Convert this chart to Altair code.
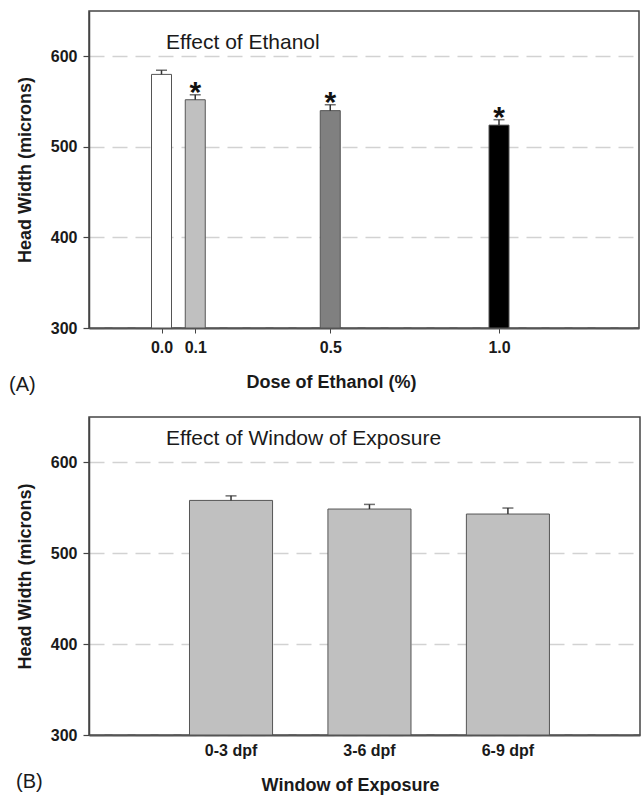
import altair as alt
import pandas as pd

# ---------------- data ----------------
# Panel A: effect of ethanol dose
DOSE = [0.0, 0.1, 0.5, 1.0]
DOSE_LABEL = ["0.0", "0.1", "0.5", "1.0"]
A_MEAN = [580, 552, 540, 524]
A_ERR = [4.6, 5.5, 6.5, 6.0]
A_SIG = [False, True, True, True]

# Panel B: effect of window of exposure
WINDOW = ["0-3 dpf", "3-6 dpf", "6-9 dpf"]
B_MEAN = [558.2, 548.7, 543.2]
B_ERR = [5.0, 5.1, 6.6]

Y_TICKS = [300, 400, 500, 600]
TITLE_A = "Effect of Ethanol"
TITLE_B = "Effect of Window of Exposure"
PANEL_A = "(A)"
PANEL_B = "(B)"

# ---------------- style ----------------
FONT = "Liberation Sans"
A_COLORS = ["#ffffff", "#c0c0c0", "#808080", "#000000"]
B_COLOR = "#c0c0c0"
TXT = "#1a1a1a"

dfA = pd.DataFrame({
    "dose": DOSE,
    "key": DOSE_LABEL,
    "mean": A_MEAN,
    "upper": [m + e for m, e in zip(A_MEAN, A_ERR)],
    "sig": A_SIG,
})
dfB = pd.DataFrame({
    "win": WINDOW,
    "mean": B_MEAN,
    "upper": [m + e for m, e in zip(B_MEAN, B_ERR)],
})

Y_TITLE = "Head Width (microns)"


def y_axis(h):
    return alt.Axis(
        values=Y_TICKS, grid=True, gridDash=[15, 8], gridColor="#d2d2d2",
        gridWidth=1.5, tickSize=6, tickColor="#444", tickWidth=1.2,
        domainColor="#444", domainWidth=1.5, labelPadding=6,
        labelFontSize=16, labelFontWeight="bold", labelColor=TXT,
        titleFontSize=18, titleFontWeight="bold", titleColor=TXT,
        titleX=-64, titleY=h / 2, titleAngle=270, titleAlign="center",
        titleBaseline="middle",
    )


def y_enc(field, h):
    return alt.Y(field, type="quantitative",
                 scale=alt.Scale(domain=[300, 650], nice=False, zero=False),
                 axis=y_axis(h), title=Y_TITLE)


# ---------------- panel A ----------------
WA, HA = 550, 317
xA_axis = alt.Axis(
    values=DOSE, format=".1f", grid=False, tickSize=5, tickColor="#444",
    labelPadding=6, labelFontSize=16, labelFontWeight="bold", labelColor=TXT,
    labelFlush=False, domainColor="#555", domainWidth=2,
    titleFontSize=18, titleFontWeight="bold", titleColor=TXT,
    titleX=242, titleY=59, titleBaseline="alphabetic", titleAlign="center",
)


def xA(field="dose"):
    return alt.X(field, type="quantitative",
                 scale=alt.Scale(domain=[-0.2, 1.4], nice=False, zero=False),
                 axis=xA_axis, title="Dose of Ethanol (%)")


baseA = alt.Chart(dfA)
barsA = baseA.mark_bar(size=20, stroke="#555", strokeWidth=1).encode(
    x=xA(), y=y_enc("mean", HA), y2=alt.datum(300),
    color=alt.Color("key:N", scale=alt.Scale(domain=DOSE_LABEL, range=A_COLORS), legend=None),
)
errA = baseA.mark_rule(color="#333", strokeWidth=1.5).encode(
    x=xA(), y=y_enc("mean", HA), y2="upper:Q")
capA = baseA.mark_tick(orient="horizontal", size=11, thickness=1.5, color="#333").encode(
    x=xA(), y=y_enc("upper", HA))
starA = baseA.transform_filter("datum.sig").mark_text(
    text="*", fontSize=30, fontWeight="bold", font=FONT, baseline="alphabetic",
    dy=7, color="#111").encode(x=xA(), y=y_enc("upper", HA))
titleA = alt.Chart(pd.DataFrame({"t": [TITLE_A]})).mark_text(
    align="left", baseline="alphabetic", fontSize=21, font=FONT, color=TXT).encode(
    x=alt.value(77), y=alt.value(38), text="t:N")
tagA = alt.Chart(pd.DataFrame({"t": [PANEL_A]})).mark_text(
    align="left", baseline="alphabetic", fontSize=20, font=FONT, color=TXT).encode(
    x=alt.value(-80), y=alt.value(380), text="t:N")

chartA = alt.layer(barsA, errA, capA, starA, titleA, tagA).properties(width=WA, height=HA)

# ---------------- panel B ----------------
WB, HB = 551, 318
xB_axis = alt.Axis(
    grid=False, ticks=False, tickSize=0, labelPadding=7, labelFontSize=16,
    labelFontWeight="bold", labelColor=TXT, labelAngle=0,
    domainColor="#555", domainWidth=2,
    titleFontSize=18, titleFontWeight="bold", titleColor=TXT,
    titleX=261, titleY=55, titleBaseline="alphabetic", titleAlign="center",
)


def xB():
    return alt.X("win", type="nominal",
                 scale=alt.Scale(domain=WINDOW, paddingInner=0.4, paddingOuter=0.69, align=0.526),
                 axis=xB_axis, title="Window of Exposure")


baseB = alt.Chart(dfB)
barsB = baseB.mark_bar(color=B_COLOR, stroke="#555", strokeWidth=1).encode(
    x=xB(), y=y_enc("mean", HB), y2=alt.datum(300))
errB = baseB.mark_rule(color="#333", strokeWidth=1.5).encode(
    x=xB(), y=y_enc("mean", HB), y2="upper:Q")
capB = baseB.mark_tick(orient="horizontal", size=11, thickness=1.5, color="#333").encode(
    x=xB(), y=y_enc("upper", HB))
titleB = alt.Chart(pd.DataFrame({"t": [TITLE_B]})).mark_text(
    align="left", baseline="alphabetic", fontSize=21, font=FONT, color=TXT).encode(
    x=alt.value(77), y=alt.value(28), text="t:N")
tagB = alt.Chart(pd.DataFrame({"t": [PANEL_B]})).mark_text(
    align="left", baseline="alphabetic", fontSize=20, font=FONT, color=TXT).encode(
    x=alt.value(-73), y=alt.value(371), text="t:N")

chartB = alt.layer(barsB, errB, capB, titleB, tagB).properties(width=WB, height=HB)

chart = alt.vconcat(chartA, chartB, spacing=20).properties(
    padding={"left": 8, "top": 10, "right": 2, "bottom": 2},
    background="white",
).configure_view(stroke="#444", strokeWidth=1.5).configure_axis(
    labelFont=FONT, titleFont=FONT
).configure_text(font=FONT)

chart.save("out.html", embed_options={"renderer": "svg", "actions": False})
